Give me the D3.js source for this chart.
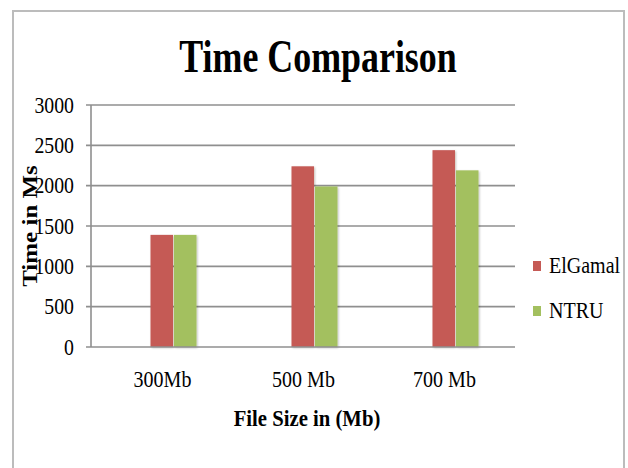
<!DOCTYPE html>
<html>
<head>
<meta charset="utf-8">
<script src="https://cdn.jsdelivr.net/npm/d3@7"></script>
<style>
  html, body { margin: 0; padding: 0; background: #fff; }
  svg { display: block; }
  text { font-family: "Liberation Serif", "Times New Roman", serif; fill: #000; }
</style>
</head>
<body>
<svg id="chart" width="628" height="468"></svg>
<script>
// Chart data
const categories = ["300Mb", "500 Mb", "700 Mb"];
const seriesNames = ["ElGamal", "NTRU"];
const elgamalValues = [1390, 2240, 2440];
const ntruValues = [1390, 1990, 2190];
const yTicks = [0, 500, 1000, 1500, 2000, 2500, 3000];
const seriesColors = ["#c55a55", "#a3c05f"];

const titleText = "Time Comparison";
const xTitleText = "File Size in (Mb)";
const yTitleText = "Time in Ms";

const svg = d3.select("#chart");
const W = 628, H = 468;

// Outer chart frame
svg.append("rect").attr("width", W).attr("height", H).attr("fill", "#fff");
svg.append("rect")
  .attr("x", 13).attr("y", 11)
  .attr("width", 611).attr("height", 470)
  .attr("fill", "#fff")
  .attr("stroke", "#bcbcbc").attr("stroke-width", 2);

// Plot geometry
const plot = { left: 91, right: 515, top: 105, bottom: 347 };

const y = d3.scaleLinear().domain([0, 3000]).range([plot.bottom, plot.top]);
const x = d3.scaleBand().domain(categories).range([plot.left + 1, plot.left + 424]).padding(0);
const xs = d3.scaleBand().domain(seriesNames).range([0, 46]).paddingInner(0.04);
const barShift = x.bandwidth() / 2 - 23 + 11;

// Condensed serif text helper
function label(g, txt, px, py, opts) {
  const t = g.append("text")
    .attr("transform", `translate(${px},${py}) scale(${opts.sx || 1},1)`)
    .attr("font-size", opts.size)
    .attr("font-weight", opts.weight || "normal")
    .attr("text-anchor", opts.anchor || "start")
    .attr("dominant-baseline", opts.baseline || "auto")
    .text(txt);
  return t;
}

// Title
label(svg, titleText, 318, 72, { size: 46, weight: "bold", anchor: "middle", sx: 0.78 });

// Gridlines with small outside ticks
const grid = svg.append("g");
grid.selectAll("line.grid")
  .data(yTicks.filter(d => d > 0))
  .join("line")
  .attr("class", "grid")
  .attr("x1", plot.left - 5).attr("x2", plot.right)
  .attr("y1", d => y(d)).attr("y2", d => y(d))
  .attr("stroke", "#8f8f8f").attr("stroke-width", 1.6);

// Vertical axis line
svg.append("line")
  .attr("x1", plot.left).attr("x2", plot.left)
  .attr("y1", y(3000)).attr("y2", y(0))
  .attr("stroke", "#8f8f8f").attr("stroke-width", 1.6);

// Soft shadow for the bars
const shadow = svg.append("defs").append("filter").attr("id", "barShadow")
  .attr("x", "-20%").attr("y", "-10%").attr("width", "140%").attr("height", "120%");
shadow.append("feGaussianBlur").attr("in", "SourceAlpha").attr("stdDeviation", 1.2).attr("result", "b");
shadow.append("feOffset").attr("in", "b").attr("dx", 0.5).attr("dy", 0.5).attr("result", "o");
shadow.append("feComponentTransfer").attr("in", "o").attr("result", "s")
  .append("feFuncA").attr("type", "linear").attr("slope", 0.25);
const merge = shadow.append("feMerge");
merge.append("feMergeNode").attr("in", "s");
merge.append("feMergeNode").attr("in", "SourceGraphic");

// Bars
const rows = categories.map((c, i) => ({ cat: c, vals: [elgamalValues[i], ntruValues[i]] }));
const groups = svg.append("g").selectAll("g")
  .data(rows).join("g")
  .attr("transform", d => `translate(${x(d.cat) + barShift},0)`);
groups.selectAll("rect")
  .data(d => d.vals.map((v, k) => ({ s: seriesNames[k], v, k })))
  .join("rect")
  .attr("x", d => xs(d.s))
  .attr("width", xs.bandwidth())
  .attr("y", d => y(d.v))
  .attr("height", d => y(0) - y(d.v))
  .attr("fill", d => seriesColors[d.k])
  .attr("filter", "url(#barShadow)");

// x baseline drawn over bar bottoms
svg.append("line")
  .attr("x1", plot.left - 5).attr("x2", plot.right)
  .attr("y1", y(0)).attr("y2", y(0))
  .attr("stroke", "#8f8f8f").attr("stroke-width", 1.6);

// Y tick labels
const yl = svg.append("g");
yTicks.forEach(t => {
  label(yl, String(t), 74, y(t), { size: 23, anchor: "end", baseline: "central", sx: 0.86 });
});

// X category labels
const xl = svg.append("g");
categories.forEach(c => {
  label(xl, c, x(c) + x.bandwidth() / 2, 387, { size: 23, anchor: "middle", sx: 0.87 });
});

// Axis titles
label(svg, xTitleText, 307, 426, { size: 23, weight: "bold", anchor: "middle", sx: 0.9 });
svg.append("text")
  .attr("transform", "translate(37,226) rotate(-90) scale(1,0.85)")
  .attr("font-size", 25)
  .attr("font-weight", "bold")
  .attr("text-anchor", "middle")
  .text(yTitleText);

// Legend
const legend = svg.append("g");
seriesNames.forEach((s, k) => {
  const ly = 266 + k * 45;
  legend.append("rect")
    .attr("x", 533).attr("y", ly - 5)
    .attr("width", 8).attr("height", 10)
    .attr("fill", seriesColors[k]);
  label(legend, s, 549, ly, { size: 23, baseline: "central", sx: 0.87 });
});
</script>
</body>
</html>
